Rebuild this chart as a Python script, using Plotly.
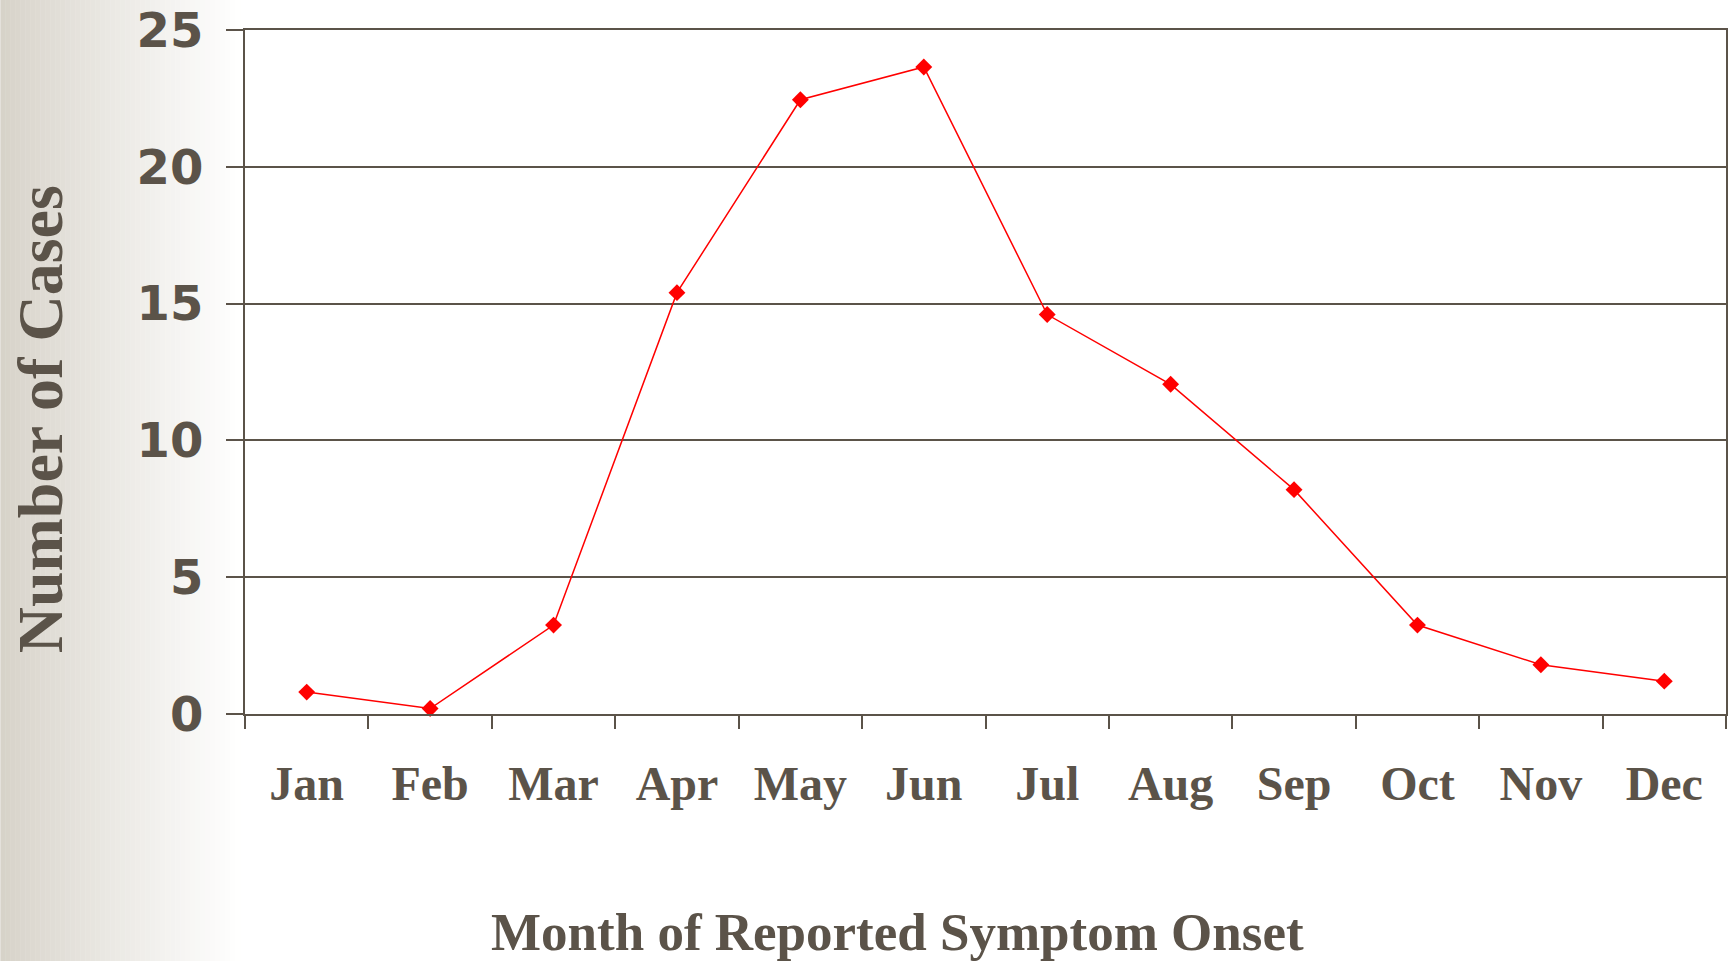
import plotly.graph_objects as go

months = ["Jan", "Feb", "Mar", "Apr", "May", "Jun", "Jul", "Aug", "Sep", "Oct", "Nov", "Dec"]
cases = [0.8, 0.2, 3.25, 15.4, 22.45, 23.65, 14.6, 12.05, 8.2, 3.25, 1.8, 1.2]
y_ticks = [0, 5, 10, 15, 20, 25]

W, H = 1728, 961
L, R, T, B = 245, 0, 30, 247
pw, ph = W - L - R, H - T - B
TXT = "#5b5349"

def px_x(p):
    return (p - L) / pw

def px_y(p):
    return (H - B - p) / ph

fig = go.Figure()
fig.add_trace(go.Scatter(
    x=months, y=cases, mode="lines+markers",
    line=dict(color="#ff0000", width=1.5),
    marker=dict(symbol="diamond", size=13, color="#ff0000"),
    showlegend=False, cliponaxis=False,
))

# left background gradient (strips)
shapes = []
n = 48
sw = 240 / n
c0 = (214, 210, 200)
for i in range(n):
    t = (i + 0.5) / n
    col = tuple(round(c + (255 - c) * min(1, t ** 0.9)) for c in c0)
    shapes.append(dict(
        type="rect", xref="paper", yref="paper",
        x0=px_x(i * sw), x1=px_x((i + 1) * sw + 0.5),
        y0=px_y(H), y1=px_y(0),
        fillcolor="rgb(%d,%d,%d)" % col, line=dict(width=0), layer="below",
    ))

fig.update_layout(
    width=W, height=H,
    margin=dict(l=L, r=R, t=T, b=B, pad=0),
    paper_bgcolor="white", plot_bgcolor="white",
    shapes=shapes,
    xaxis=dict(
        type="category", tickson="boundaries", ticks="outside", ticklen=13,
        tickwidth=2, tickcolor=TXT, showline=True, linecolor=TXT, linewidth=2,
        mirror=True, showgrid=False, range=[-0.5, 11.5],
        tickfont=dict(family="Liberation Serif", size=48, color=TXT, weight=700),
        ticklabelstandoff=26,
    ),
    yaxis=dict(
        range=[0, 25], tickvals=y_ticks, ticks="outside", ticklen=17,
        tickwidth=2, tickcolor=TXT, showline=True, linecolor=TXT, linewidth=2,
        mirror=True, showgrid=True, gridcolor=TXT, gridwidth=1.5, zeroline=False,
        tickfont=dict(family="DejaVu Sans", size=48, color=TXT, weight=700),
        ticklabelstandoff=13,
    ),
    annotations=[
        dict(text="Number of Cases", textangle=-90, xref="paper", yref="paper",
             x=px_x(41), y=px_y(419), showarrow=False, xanchor="center", yanchor="middle",
             font=dict(family="Liberation Serif", size=64, color=TXT, weight=700)),
        dict(text="Month of Reported Symptom Onset", xref="paper", yref="paper",
             x=px_x(898), y=px_y(932), showarrow=False, xanchor="center", yanchor="middle",
             font=dict(family="Liberation Serif", size=53, color=TXT, weight=700)),
    ],
)

fig.write_html("out.html", config={"displayModeBar": False},
               post_script="document.body.style.margin='0';document.body.style.overflow='hidden';")
